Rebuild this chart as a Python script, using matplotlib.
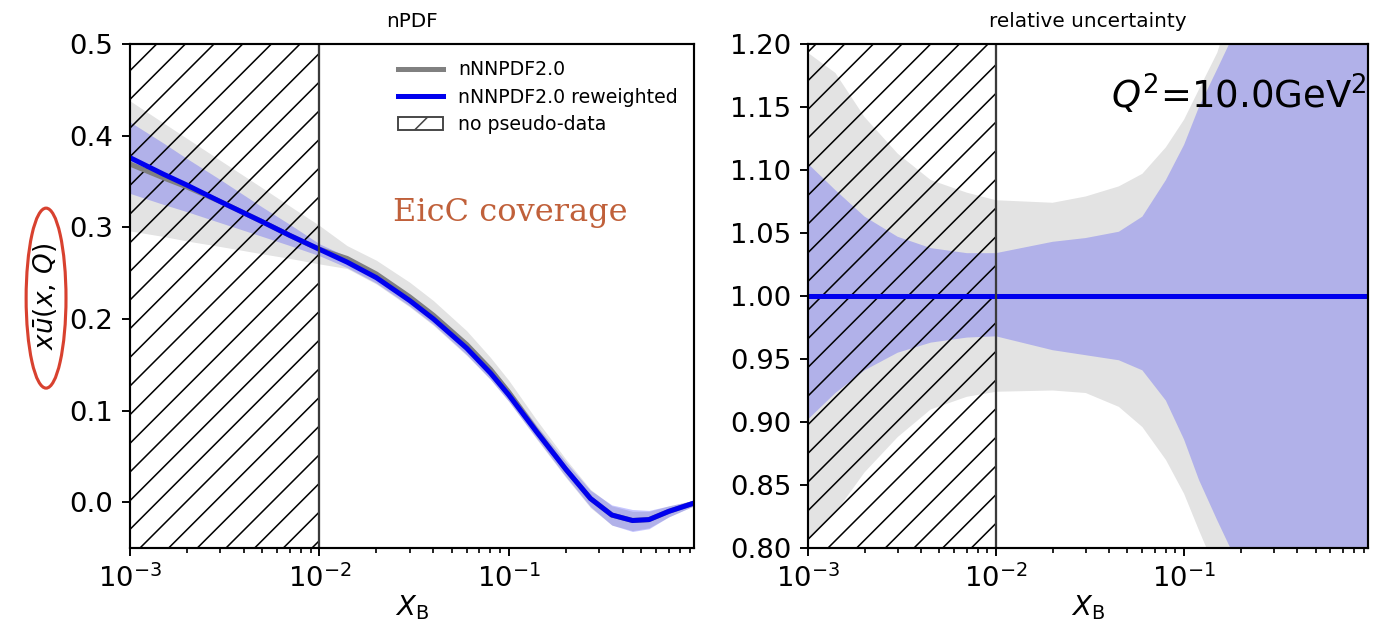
import numpy as np
import matplotlib
matplotlib.use("Agg")
import matplotlib.pyplot as plt
from matplotlib.patches import Ellipse, Patch
from matplotlib.lines import Line2D
from matplotlib.ticker import FormatStrFormatter, MultipleLocator

# ---------------- left panel: x*ubar(x,Q) ----------------
x_pdf = [1e-3, 1.5e-3, 2e-3, 3e-3, 5e-3, 7e-3, 1e-2, 1.4e-2, 2e-2, 3e-2, 4e-2,
         6e-2, 8e-2, 0.1, 0.14, 0.2, 0.27, 0.35, 0.45, 0.55, 0.7, 0.95]
rw_central = [0.376, 0.358, 0.346, 0.328, 0.306, 0.291, 0.276, 0.262, 0.245, 0.220, 0.200,
              0.168, 0.141, 0.117, 0.077, 0.036, 0.004, -0.014, -0.020, -0.019, -0.010, -0.001]
rw_lo = [0.337, 0.325, 0.317, 0.305, 0.290, 0.280, 0.269, 0.256, 0.239, 0.214, 0.194,
         0.161, 0.134, 0.110, 0.070, 0.028, -0.005, -0.025, -0.032, -0.029, -0.016, -0.004]
rw_hi = [0.415, 0.392, 0.375, 0.352, 0.322, 0.303, 0.282, 0.268, 0.251, 0.226, 0.206,
         0.175, 0.148, 0.124, 0.084, 0.044, 0.013, -0.003, -0.008, -0.009, -0.004, 0.002]
nn_central = [0.369, 0.354, 0.344, 0.328, 0.306, 0.291, 0.276, 0.266, 0.249, 0.224, 0.204,
              0.172, 0.145, 0.120, 0.078, 0.036, 0.004, -0.014, -0.020, -0.019, -0.010, -0.001]
nn_lo = [0.296, 0.290, 0.285, 0.279, 0.271, 0.266, 0.260, 0.255, 0.238, 0.213, 0.193,
         0.160, 0.134, 0.110, 0.069, 0.027, -0.006, -0.025, -0.031, -0.028, -0.016, -0.004]
nn_hi = [0.438, 0.414, 0.397, 0.373, 0.343, 0.323, 0.302, 0.280, 0.264, 0.240, 0.220,
         0.187, 0.158, 0.133, 0.090, 0.047, 0.014, -0.004, -0.010, -0.010, -0.004, 0.002]

# ---------------- right panel: relative uncertainty ----------------
x_rel = [1e-3, 1.4e-3, 2e-3, 3e-3, 4.5e-3, 7e-3, 1e-2, 2e-2, 3e-2, 4.5e-2, 6e-2,
         8e-2, 0.1, 0.12, 0.15, 0.18, 0.25, 0.4, 0.95]
nn_rel_hi = [1.193, 1.177, 1.142, 1.113, 1.092, 1.082, 1.076, 1.074, 1.079, 1.087, 1.097,
             1.118, 1.140, 1.164, 1.193, 1.23, 1.35, 1.6, 2.0]
nn_rel_lo = [0.806, 0.828, 0.860, 0.888, 0.910, 0.920, 0.924, 0.925, 0.923, 0.912, 0.896,
             0.870, 0.843, 0.814, 0.780, 0.750, 0.680, 0.550, 0.400]
rw_rel_hi = [1.105, 1.084, 1.063, 1.047, 1.038, 1.034, 1.034, 1.043, 1.046, 1.051, 1.063,
             1.092, 1.120, 1.150, 1.180, 1.205, 1.30, 1.5, 2.0]
rw_rel_lo = [0.902, 0.923, 0.941, 0.955, 0.963, 0.967, 0.968, 0.957, 0.953, 0.949, 0.941,
             0.917, 0.886, 0.854, 0.822, 0.797, 0.720, 0.600, 0.500]
rel_central = [1.0] * len(x_rel)

no_data_range = (1e-3, 1e-2)

plt.rcParams['font.family'] = ['DejaVu Sans']
plt.rcParams['hatch.linewidth'] = 0.65

DPI = 172
fig = plt.figure(figsize=(1375 / DPI, 625 / DPI), dpi=DPI)
ax1 = fig.add_axes([0.0945, 0.1232, 0.4102, 0.8064])
ax2 = fig.add_axes([0.5876, 0.1232, 0.4073, 0.8064])

GRAY = 'gray'
BLUE = '#0000ee'

for ax in (ax1, ax2):
    ax.set_xscale('log')
    ax.set_xlim(1e-3, 0.95)
    for s in ax.spines.values():
        s.set_linewidth(0.9)
    ax.tick_params(which='major', labelsize=11.5, length=3.5, width=0.8)
    ax.tick_params(which='minor', length=1.9, width=0.7)
    ax.set_xlabel(r'$X_{\rm B}$', fontsize=11.5, labelpad=0)

# left
ax1.fill_between(x_pdf, nn_lo, nn_hi, color=GRAY, alpha=0.22, lw=0)
ax1.fill_between(x_pdf, rw_lo, rw_hi, color='blue', alpha=0.22, lw=0)
ax1.plot(x_pdf, nn_central, color=GRAY, lw=2.1)
ax1.plot(x_pdf, rw_central, color=BLUE, lw=2.1)
ax1.axvspan(*no_data_range, facecolor='none', edgecolor='black', hatch='//', lw=0)
ax1.axvline(no_data_range[1], color='#3a3a3a', lw=0.95)
ax1.set_ylim(-0.05, 0.5)
ax1.yaxis.set_major_locator(MultipleLocator(0.1))
ax1.yaxis.set_major_formatter(FormatStrFormatter('%.1f'))
ax1.set_title('nPDF', fontsize=8.4, pad=7)
ax1.set_ylabel('$x\u016b(x,\\,Q)$', fontsize=11)
ax1.yaxis.set_label_coords(-0.125, 0.5)
ax1.text(0.675, 0.665, 'EicC coverage', transform=ax1.transAxes, ha='center', va='center',
         fontsize=13.4, color='#c0603a', family='DejaVu Serif')

handles = [Line2D([], [], color=GRAY, lw=2.1),
           Line2D([], [], color=BLUE, lw=2.1),
           Patch(facecolor='white', edgecolor='#444444', hatch='//', lw=0.8)]
ax1.legend(handles, ['nNNPDF2.0', 'nNNPDF2.0 reweighted', 'no pseudo-data'],
           loc='upper left', bbox_to_anchor=(0.455, 0.99), frameon=False, fontsize=7.9,
           handlelength=2.4, labelspacing=0.45, borderaxespad=0.2)

# right
ax2.fill_between(x_rel, nn_rel_lo, nn_rel_hi, color=GRAY, alpha=0.22, lw=0)
ax2.fill_between(x_rel, rw_rel_lo, rw_rel_hi, color='blue', alpha=0.22, lw=0)
ax2.plot(x_rel, rel_central, color=BLUE, lw=2.1)
ax2.axvspan(*no_data_range, facecolor='none', edgecolor='black', hatch='//', lw=0)
ax2.axvline(no_data_range[1], color='#3a3a3a', lw=0.95)
ax2.set_ylim(0.8, 1.2)
ax2.yaxis.set_major_locator(MultipleLocator(0.05))
ax2.yaxis.set_major_formatter(FormatStrFormatter('%.2f'))
ax2.set_title('relative uncertainty', fontsize=8.4, pad=7)
ax2.text(0.997, 0.9, r'$Q^2$=10.0GeV$^2$', transform=ax2.transAxes, ha='right', va='center',
         fontsize=15.5)

# red ellipse highlighting the y label
fig.patches.append(Ellipse((0.0335, 0.523), 0.029, 0.288, transform=fig.transFigure,
                           facecolor='none', edgecolor='#d8412f', lw=1.3))

fig.savefig('out.png', dpi=DPI)
